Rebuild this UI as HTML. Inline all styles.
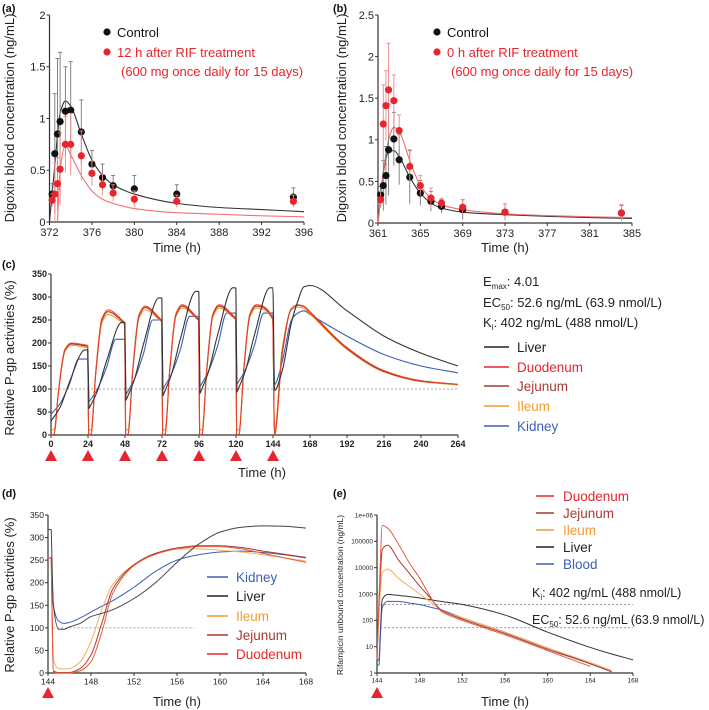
<!DOCTYPE html>
<html><head><meta charset="utf-8">
<style>
html,body{margin:0;padding:0;background:#fff;}
svg{display:block;font-family:"Liberation Sans",sans-serif;}
</style></head>
<body>
<svg id="fig" width="709" height="710" viewBox="0 0 709 710" xmlns="http://www.w3.org/2000/svg"></svg>
<script>
// ---------- Panel (a) data ----------
const aTimes = [372.25,372.5,372.75,373,373.5,374,375,376,377,378,380,384,395];
const aCtrl = [0.27,0.66,0.85,0.97,1.07,1.08,0.87,0.56,0.43,0.35,0.32,0.27,0.24];
const aCtrlSd = [0.1,0.58,0.73,0.67,0.43,0.47,0.31,0.13,0.13,0.1,0.13,0.09,0.09];
const aRif = [0.21,0.27,0.37,0.51,0.75,0.75,0.64,0.47,0.36,0.28,0.22,0.2,0.2];
const aRifSd = [0.06,0.3,0.25,0.35,0.27,0.3,0.24,0.12,0.1,0.08,0.08,0.06,0.06];
const aCtrlFitT = [372,372.5,373,373.5,374,375,376,377,378,380,384,388,392,396];
const aCtrlFit = [0,0.55,1.05,1.17,1.12,0.85,0.6,0.45,0.36,0.27,0.18,0.14,0.12,0.1];
const aRifFitT = [372.75,373,373.5,374,375,376,377,378,380,384,388,392,396];
const aRifFit = [0,0.5,0.74,0.65,0.45,0.3,0.22,0.18,0.13,0.09,0.075,0.06,0.05];
const aXTicks = [372,376,380,384,388,392,396];
const aYTicks = [0,0.5,1,1.5,2];
// ---------- Panel (b) data ----------
const bTimes = [361.25,361.5,361.75,362,362.5,363,364,365,366,367,369,373,384];
const bCtrl = [0.34,0.45,0.57,0.88,1.01,0.76,0.55,0.36,0.26,0.2,0.16,0.13,0.12];
const bCtrlSd = [0.1,0.3,0.35,0.55,0.32,0.3,0.32,0.15,0.12,0.08,0.12,0.1,0.09];
const bRif = [0.28,1.19,1.41,1.6,1.47,1.11,0.68,0.45,0.3,0.24,0.19,0.13,0.12];
const bRifSd = [0.1,0.47,0.42,0.56,0.31,0.19,0.2,0.12,0.12,0.06,0.09,0.1,0.1];
const bCtrlFitT = [361,361.5,362,362.5,363,364,365,366,367,369,373,377,381,385];
const bCtrlFit = [0,0.6,0.86,0.87,0.8,0.55,0.36,0.24,0.18,0.13,0.1,0.08,0.065,0.055];
const bRifFitT = [361,361.5,362,362.5,363,364,365,366,367,369,373,377,381,385];
const bRifFit = [0,0.6,1.0,1.15,1.1,0.75,0.45,0.3,0.22,0.16,0.11,0.09,0.075,0.065];
const bXTicks = [361,365,369,373,377,381,385];
const bYTicks = [0,0.5,1,1.5,2,2.5];
// ---------- Panel (c) data ----------
const cDoses = [0,24,48,72,96,120,144];
const cLiverTrough = [30,57,75,85,90,93,97];
const cLiverPeak = [185,245,298,312,320,320];
const cKidneyTrough = [45,72,88,100,105,110,110];
const cKidneyPeak = [165,208,250,258,265,265];
const cDuoPeak = [200,272,280,283,283,283];
const cDuoEnd = [195,245,250,252,255,255];
const cJejPeak = [198,268,277,280,280,280];
const cJejEnd = [193,243,248,250,253,253];
const cIlePeak = [195,262,272,276,276,276];
const cIleEnd = [190,240,246,249,251,251];
const cTailT = [145,150,156,160,164,168,192,216,240,264];
const cLiverTail = [97,140,245,290,322,325,270,215,178,150];
const cKidneyTail = [110,160,250,265,270,262,215,175,150,135];
const cDuoTail = [0,175,275,283,280,268,190,140,118,110];
const cJejTail = [0,180,275,282,279,266,188,138,117,110];
const cIleTail = [10,190,272,278,275,263,186,137,116,109];
const cXTicks = [0,24,48,72,96,120,144,168,192,216,240,264];
const cYTicks = [0,50,100,150,200,250,300,350];
// ---------- Panel (d) data ----------
const dT = [144,144.3,144.5,145,145.5,146,147,148,149,150,152,154,156,158,160,162,164,166,168];
const dLiver = [318,318,150,97,97,102,110,125,132,140,165,200,245,285,312,323,326,325,321];
const dKidney = [255,255,150,115,110,112,122,135,148,160,190,225,250,262,268,270,267,262,255];
const dIleum = [255,255,30,10,9,10,25,70,140,195,240,265,275,275,272,268,262,255,248];
const dJejunum = [255,255,5,1,1,1,10,40,110,185,240,265,277,282,282,278,270,263,256];
const dDuodenum = [255,255,2,0,0,0,5,25,90,175,238,263,275,280,280,275,265,255,245];
const dXTicks = [144,148,152,156,160,164,168];
const dYTicks = [0,50,100,150,200,250,300,350];
// ---------- Panel (e) data (log10 ng/mL) ----------
const eT = [144,144.2,144.5,145,146,147,148,149,150,152,156,160,164,166,168];
const eDuo = [0.5,3,5.6,5.5,4.9,4.2,3.6,2.9,2.35,2.0,1.45,0.85,0.25,null,null];
const eJej = [0.5,2.8,4.7,4.85,4.3,3.8,3.3,2.85,2.4,2.05,1.5,0.9,0.35,0.05,null];
const eIle = [0.5,2.5,3.8,3.95,3.6,3.3,3.0,2.7,2.4,2.1,1.55,0.95,0.4,0.1,null];
const eLiver = [0.5,0.5,2.8,2.98,2.95,2.9,2.85,2.78,2.72,2.6,2.2,1.55,0.97,0.72,0.5];
const eBlood = [0.3,0.3,2.5,2.72,2.72,2.66,2.6,2.5,2.4,2.1,1.55,0.95,0.35,0.05,null];
const eKi = 402, eEC50 = 52.6;
const eXTicks = [144,148,152,156,160,164,168];
const eYTicks = ["1","10","100","1000","10000","100000","1e+06"];

const svg = document.getElementById('fig');
const NS = 'http://www.w3.org/2000/svg';
function mk(tag, attrs, name, parent) {
  const e = document.createElementNS(NS, tag);
  for (const k in attrs) e.setAttribute(k, attrs[k]);
  
  
  (parent || svg).appendChild(e);
  return e;
}
function txt(x, y, s, size, fill, name, anchor, extra) {
  const t = mk('text', Object.assign({x:x, y:y, 'font-size':size, fill:fill||'#222', 'text-anchor':anchor||'start'}, extra||{}), name);
  t.textContent = s;
  return t;
}
function lin(d0, d1, r0, r1) { return v => r0 + (v - d0) / (d1 - d0) * (r1 - r0); }
// monotone cubic (Fritsch-Carlson) path, no overshoot
function smoothPath(pts) {
  const n = pts.length;
  if (n < 2) return '';
  const dx = [], m = [], t = [];
  for (let i = 0; i < n - 1; i++) {
    dx[i] = pts[i + 1][0] - pts[i][0];
    m[i] = dx[i] === 0 ? 0 : (pts[i + 1][1] - pts[i][1]) / dx[i];
  }
  t[0] = m[0]; t[n - 1] = m[n - 2];
  for (let i = 1; i < n - 1; i++) {
    if (m[i - 1] * m[i] <= 0) t[i] = 0;
    else {
      const w1 = 2 * dx[i] + dx[i - 1], w2 = dx[i] + 2 * dx[i - 1];
      t[i] = (w1 + w2) / (w1 / m[i - 1] + w2 / m[i]);
    }
  }
  let d = 'M' + pts[0][0].toFixed(2) + ',' + pts[0][1].toFixed(2);
  for (let i = 0; i < n - 1; i++) {
    const h = dx[i] / 3;
    d += 'C' + (pts[i][0] + h).toFixed(2) + ',' + (pts[i][1] + t[i] * h).toFixed(2) + ' ' +
      (pts[i + 1][0] - h).toFixed(2) + ',' + (pts[i + 1][1] - t[i + 1] * h).toFixed(2) + ' ' +
      pts[i + 1][0].toFixed(2) + ',' + pts[i + 1][1].toFixed(2);
  }
  return d;
}
function drawAxes(o) {
  mk('line', {x1:o.x0, y1:o.yTop, x2:o.x0, y2:o.yBot, stroke:'#333', 'stroke-width':1.2}, o.id + '-y-axis');
  mk('line', {x1:o.x0, y1:o.yBot, x2:o.x1, y2:o.yBot, stroke:'#333', 'stroke-width':1.2}, o.id + '-x-axis');
  o.xt.forEach((v, i) => {
    const x = o.xs(v);
    mk('line', {x1:x, y1:o.yBot, x2:x, y2:o.yBot + 3, stroke:'#333', 'stroke-width':1}, o.id + '-x-tick');
    txt(x, o.yBot + 3 + o.fs, o.xl ? o.xl[i] : String(v), o.fs, '#222', o.id + '-x-tick-label', 'middle', o.bold ? {'font-weight':'bold'} : {});
  });
  o.yt.forEach((v, i) => {
    const y = o.ys(v);
    mk('line', {x1:o.x0 - 3, y1:y, x2:o.x0, y2:y, stroke:'#333', 'stroke-width':1}, o.id + '-y-tick');
    txt(o.x0 - 4, y + o.fs * 0.35, o.yl ? o.yl[i] : String(v), o.fs, '#222', o.id + '-y-tick-label', 'end', o.bold ? {'font-weight':'bold'} : {});
  });
}
function panelLabel(x, y, s) { txt(x, y, s, 11, '#111', 'panel-label', 'start', {'font-weight':'bold'}); }
function yTitle(x, cy, s, size) {
  txt(0, 0, s, size, '#222', 'y-axis-title', 'middle', {transform:'translate(' + x + ',' + cy + ') rotate(-90)'});
}
function curve(ts, vs, xs, ys, color, w, name) {
  const pts = [];
  ts.forEach((t, i) => { if (vs[i] !== null) pts.push([xs(t), ys(vs[i])]); });
  mk('path', {d:smoothPath(pts), fill:'none', stroke:color, 'stroke-width':w}, name);
}
function scatter(ts, vs, sds, xs, ys, color, name) {
  ts.forEach((t, i) => {
    const x = xs(t), yu = ys(vs[i] + sds[i]), yd = ys(Math.max(0, vs[i] - sds[i]));
    mk('line', {x1:x, y1:yu, x2:x, y2:yd, stroke: color === '#111' ? '#777' : '#e88', 'stroke-width':0.9}, name + '-error-bar');
    mk('line', {x1:x - 2, y1:yu, x2:x + 2, y2:yu, stroke: color === '#111' ? '#777' : '#e88', 'stroke-width':0.9}, name + '-error-cap');
  });
  ts.forEach((t, i) => { mk('circle', {cx:xs(t), cy:ys(vs[i]), r:3.6, fill:color}, name + '-point'); });
}
const RED = '#e8242c', BLACK = '#111', DRED = '#a83a32', ORANGE = '#f39c2e', BLUE = '#3d5fb8';

// ===== Panel (a) =====
panelLabel(2, 12, '(a)');
const axs = lin(372, 396, 49.5, 304), ays = lin(0, 2, 222, 15);
drawAxes({id:'a', x0:49.5, x1:304, yTop:15, yBot:222, xs:axs, ys:ays, xt:aXTicks, yt:aYTicks, fs:11});
yTitle(14, 118, 'Digoxin blood concentration (ng/mL)', 13);
txt(177, 252, 'Time (h)', 13, '#222', 'x-axis-title', 'middle');
curve(aCtrlFitT, aCtrlFit, axs, ays, '#333', 1.1, 'control-fit-line-a');
curve(aRifFitT, aRifFit, axs, ays, '#f07070', 1.1, 'rif-fit-line-a');
scatter(aTimes, aCtrl, aCtrlSd, axs, ays, BLACK, 'control-a');
scatter(aTimes, aRif, aRifSd, axs, ays, RED, 'rif-a');
mk('circle', {cx:107, cy:32, r:3.6, fill:BLACK}, 'legend-marker-control-a');
txt(117, 37, 'Control', 13, '#111', 'legend-control-a');
mk('circle', {cx:107, cy:52, r:3.6, fill:RED}, 'legend-marker-rif-a');
txt(117, 57, '12 h after RIF treatment', 13, RED, 'legend-rif-a');
txt(121, 76, '(600 mg once daily for 15 days)', 13, RED, 'legend-rif-regimen-a');

// ===== Panel (b) =====
panelLabel(333, 12, '(b)');
const bxs = lin(361, 385, 378, 632), bys = lin(0, 2.5, 223, 15);
drawAxes({id:'b', x0:378, x1:632, yTop:15, yBot:223, xs:bxs, ys:bys, xt:bXTicks, yt:bYTicks, fs:11});
yTitle(346, 118, 'Digoxin blood concentration (ng/mL)', 13);
txt(505, 252, 'Time (h)', 13, '#222', 'x-axis-title', 'middle');
curve(bCtrlFitT, bCtrlFit, bxs, bys, '#333', 1.1, 'control-fit-line-b');
curve(bRifFitT, bRifFit, bxs, bys, '#f07070', 1.1, 'rif-fit-line-b');
scatter(bTimes, bCtrl, bCtrlSd, bxs, bys, BLACK, 'control-b');
scatter(bTimes, bRif, bRifSd, bxs, bys, RED, 'rif-b');
mk('circle', {cx:437, cy:32, r:3.6, fill:BLACK}, 'legend-marker-control-b');
txt(447, 37, 'Control', 13, '#111', 'legend-control-b');
mk('circle', {cx:437, cy:52, r:3.6, fill:RED}, 'legend-marker-rif-b');
txt(447, 57, '0 h after RIF treatment', 13, RED, 'legend-rif-b');
txt(451, 76, '(600 mg once daily for 15 days)', 13, RED, 'legend-rif-regimen-b');

// ===== Panel (c) =====
panelLabel(2, 268, '(c)');
const cxs = lin(0, 264, 51, 458), cys = lin(0, 350, 435, 274);
drawAxes({id:'c', x0:51, x1:458, yTop:274, yBot:435, xs:cxs, ys:cys, xt:cXTicks, yt:cYTicks, fs:9, bold:true});
yTitle(14, 358, 'Relative P-gp activities (%)', 13);
txt(262, 477, 'Time (h)', 13, '#222', 'x-axis-title', 'middle');
mk('line', {x1:cxs(0), y1:cys(100), x2:cxs(264), y2:cys(100), stroke:'#888', 'stroke-width':0.8, 'stroke-dasharray':'2,2'}, 'baseline-100-c');
function liverLike(troughs, peaks, plateauAt, tailT, tailV) {
  const T = [], V = [];
  for (let k = 0; k < peaks.length; k++) {
    const d = cDoses[k], tr = troughs[k], p = peaks[k];
    if (k > 0) { T.push(d + 0.6); V.push(tr); } else { T.push(d); V.push(tr); }
    T.push(d + 6); V.push(tr + 0.2 * (p - tr));
    T.push(d + 12); V.push(tr + 0.55 * (p - tr));
    T.push(d + plateauAt); V.push(p);
    T.push(d + 23.9); V.push(p);
  }
  tailT.forEach((t, i) => { T.push(t); V.push(tailV[i]); });
  return [T, V];
}
function gutLike(peaks, ends, trough, tailT, tailV) {
  const T = [], V = [];
  for (let k = 0; k < peaks.length; k++) {
    const d = cDoses[k], p = peaks[k];
    T.push(d + 0.4); V.push(trough);
    T.push(d + 2); V.push(trough + 2);
    T.push(d + 5); V.push(0.5 * p);
    T.push(d + 9); V.push(0.93 * p);
    T.push(d + 13); V.push(p);
    T.push(d + 23.8); V.push(ends[k]);
  }
  tailT.forEach((t, i) => { T.push(t); V.push(tailV[i]); });
  return [T, V];
}
function cCurve(tv, color, name) {
  const T = tv[0], V = tv[1];
  let seg = [];
  const segs = [];
  for (let i = 0; i < T.length; i++) {
    if (i > 0 && V[i] < V[i - 1] - 40 && T[i] - T[i - 1] < 1) { segs.push(seg); seg = []; }
    seg.push([cxs(T[i]), cys(V[i])]);
  }
  segs.push(seg);
  segs.forEach((s, i) => {
    mk('path', {d:smoothPath(s), fill:'none', stroke:color, 'stroke-width':1.1}, name);
    if (i > 0) {
      const prev = segs[i - 1][segs[i - 1].length - 1];
      mk('line', {x1:prev[0], y1:prev[1], x2:s[0][0], y2:s[0][1], stroke:color, 'stroke-width':1.1}, name + '-drop');
    }
  });
}
cCurve(liverLike(cKidneyTrough, cKidneyPeak, 18, cTailT, cKidneyTail), BLUE, 'kidney-line-c');
cCurve(gutLike(cIlePeak, cIleEnd, 10, cTailT, cIleTail), ORANGE, 'ileum-line-c');
cCurve(gutLike(cJejPeak, cJejEnd, 0, cTailT, cJejTail), DRED, 'jejunum-line-c');
cCurve(gutLike(cDuoPeak, cDuoEnd, 0, cTailT, cDuoTail), '#e8442c', 'duodenum-line-c');
cCurve(liverLike(cLiverTrough, cLiverPeak, 22, cTailT, cLiverTail), '#333', 'liver-line-c');
cDoses.forEach(d => {
  const x = cxs(d);
  mk('polygon', {points:(x - 6) + ',461 ' + (x + 6) + ',461 ' + x + ',450', fill:RED}, 'dose-marker-c');
});
(function(){
  const t1 = txt(483, 286, 'E', 13, '#222', 'emax-label');
  const s1 = mk('tspan', {'font-size':8, dy:3}, 'emax-subscript', t1); s1.textContent = 'max';
  const s2 = mk('tspan', {dy:-3}, 'emax-value', t1); s2.textContent = ': 4.01';
  const t2 = txt(483, 307, 'EC', 13, '#222', 'ec50-label');
  const s3 = mk('tspan', {'font-size':8, dy:3}, 'ec50-subscript', t2); s3.textContent = '50';
  const s4 = mk('tspan', {dy:-3}, 'ec50-value', t2); s4.textContent = ': 52.6 ng/mL (63.9 nmol/L)';
  const t3 = txt(483, 327, 'K', 13, '#222', 'ki-label');
  const s5 = mk('tspan', {'font-size':8, dy:3}, 'ki-subscript', t3); s5.textContent = 'i';
  const s6 = mk('tspan', {dy:-3}, 'ki-value', t3); s6.textContent = ': 402 ng/mL (488 nmol/L)';
})();
[['Liver', '#222', 352], ['Duodenum', RED, 372], ['Jejunum', DRED, 391], ['Ileum', ORANGE, 411], ['Kidney', BLUE, 431]].forEach(l => {
  mk('line', {x1:484, y1:l[2] - 5, x2:509, y2:l[2] - 5, stroke:l[1], 'stroke-width':1.6}, 'legend-line-c');
  txt(517, l[2], l[0], 13.5, l[1], 'legend-entry-c');
});

// ===== Panel (d) =====
panelLabel(2, 497, '(d)');
const dxs = lin(144, 168, 48, 306), dys = lin(0, 350, 673, 515);
drawAxes({id:'d', x0:48, x1:306, yTop:515, yBot:673, xs:dxs, ys:dys, xt:dXTicks, yt:dYTicks, fs:8.5});
yTitle(14, 595, 'Relative P-gp activities (%)', 13);
txt(177, 706, 'Time (h)', 13, '#222', 'x-axis-title', 'middle');
mk('line', {x1:dxs(144.5), y1:dys(100), x2:dxs(157.6), y2:dys(100), stroke:'#888', 'stroke-width':0.8, 'stroke-dasharray':'2,2'}, 'baseline-100-d');
function dCurve(vs, color, name) {
  mk('line', {x1:dxs(144), y1:dys(vs[0]), x2:dxs(144.3), y2:dys(vs[1]), stroke:color, 'stroke-width':1}, name);
  curve(dT.slice(1), vs.slice(1), dxs, dys, color, 1, name);
}
dCurve(dKidney, BLUE, 'kidney-line-d');
dCurve(dIleum, '#f5b060', 'ileum-line-d');
dCurve(dJejunum, DRED, 'jejunum-line-d');
dCurve(dDuodenum, '#ea5a3a', 'duodenum-line-d');
dCurve(dLiver, '#444', 'liver-line-d');
mk('polygon', {points:'42,698 54,698 48,687', fill:RED}, 'dose-marker-d');
[['Kidney', BLUE, 582], ['Liver', '#222', 601], ['Ileum', ORANGE, 621], ['Jejunum', DRED, 640], ['Duodenum', RED, 659]].forEach(l => {
  mk('line', {x1:207, y1:l[2] - 5, x2:228, y2:l[2] - 5, stroke:l[1], 'stroke-width':1.6}, 'legend-line-d');
  txt(236, l[2], l[0], 13.5, l[1], 'legend-entry-d');
});

// ===== Panel (e) =====
panelLabel(333, 497, '(e)');
const exs = lin(144, 168, 377, 633), eys = lin(0, 6, 673, 515);
drawAxes({id:'e', x0:377, x1:633, yTop:515, yBot:673, xs:exs, ys:eys, xt:eXTicks, yt:[0,1,2,3,4,5,6], yl:eYTicks, fs:6.5});
yTitle(343, 595, 'Rifampicin unbound concentration (ng/mL)', 8.5);
txt(505, 706, 'Time (h)', 13, '#222', 'x-axis-title', 'middle');
mk('line', {x1:exs(144.3), y1:eys(Math.log10(eKi)), x2:exs(168), y2:eys(Math.log10(eKi)), stroke:'#888', 'stroke-width':0.8, 'stroke-dasharray':'2,2'}, 'ki-line-e');
mk('line', {x1:exs(144.3), y1:eys(Math.log10(eEC50)), x2:exs(168), y2:eys(Math.log10(eEC50)), stroke:'#888', 'stroke-width':0.8, 'stroke-dasharray':'2,2'}, 'ec50-line-e');
function eCurve(vs, color, name) {
  mk('line', {x1:exs(eT[0]), y1:eys(vs[0]), x2:exs(eT[1]), y2:eys(vs[1]), stroke:color, 'stroke-width':1}, name);
  curve(eT.slice(1), vs.slice(1), exs, eys, color, 1, name);
}
eCurve(eLiver, '#333', 'liver-line-e');
eCurve(eBlood, BLUE, 'blood-line-e');
eCurve(eIle, '#f5b060', 'ileum-line-e');
eCurve(eJej, DRED, 'jejunum-line-e');
eCurve(eDuo, '#ea5a3a', 'duodenum-line-e');
mk('polygon', {points:'371,698 383,698 377,687', fill:RED}, 'dose-marker-e');
[['Duodenum', RED, 501], ['Jejunum', DRED, 518], ['Ileum', ORANGE, 535], ['Liver', '#222', 552], ['Blood', BLUE, 569]].forEach(l => {
  mk('line', {x1:536, y1:l[2] - 5, x2:554, y2:l[2] - 5, stroke:l[1], 'stroke-width':1.6}, 'legend-line-e');
  txt(563, l[2], l[0], 13.5, l[1], 'legend-entry-e');
});
(function(){
  const t1 = txt(532, 597, 'K', 12.5, '#222', 'ki-label-e');
  const s1 = mk('tspan', {'font-size':8, dy:3}, 'ki-subscript-e', t1); s1.textContent = 'i';
  const s2 = mk('tspan', {dy:-3}, 'ki-value-e', t1); s2.textContent = ': 402 ng/mL (488 nmol/L)';
  const t2 = txt(532, 624, 'EC', 12.5, '#222', 'ec50-label-e');
  const s3 = mk('tspan', {'font-size':8, dy:3}, 'ec50-subscript-e', t2); s3.textContent = '50';
  const s4 = mk('tspan', {dy:-3}, 'ec50-value-e', t2); s4.textContent = ': 52.6 ng/mL (63.9 nmol/L)';
})();
</script>
</body></html>
